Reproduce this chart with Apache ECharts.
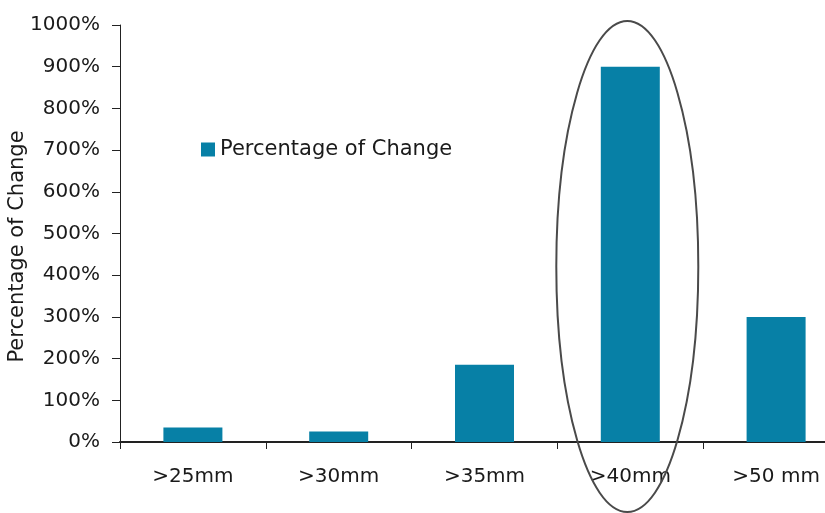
<!DOCTYPE html>
<html>
<head>
<meta charset="utf-8">
<script src="https://cdn.jsdelivr.net/npm/echarts@6/dist/echarts.min.js"></script>
<style>
  html, body { margin: 0; padding: 0; background: #fff; }
  #chart { width: 825px; height: 513px; }
</style>
</head>
<body>
<div id="chart"></div>
<script>
// Rainfall thresholds and the percentage change recorded for each
const categories = ['>25mm', '>30mm', '>35mm', '>40mm', '>50 mm'];
const changeValues = [35, 25, 185, 900, 300];
const seriesName = 'Percentage of Change';
const axisTitle = 'Percentage of Change';
const highlightCategory = '>40mm';

const FONT = 'DejaVu Sans';
const TEXT = '#1a1a1a';

const chart = echarts.init(document.getElementById('chart'));

// The plot area runs on past the right edge, so the last column sits near the border
chart.setOption({
  animation: false,
  backgroundColor: '#ffffff',
  grid: {
    left: 120, width: 729, top: 25, height: 417,
    containLabel: false,
    outerBoundsMode: 'none'
  },
  legend: {
    left: 196,
    top: 134,
    itemWidth: 14,
    itemHeight: 14,
    icon: 'rect',
    textStyle: { fontFamily: FONT, fontSize: 21, color: TEXT },
    data: [seriesName]
  },
  xAxis: {
    type: 'category',
    data: categories,
    axisLine: { lineStyle: { color: '#222', width: 2 } },
    axisTick: { show: true, alignWithLabel: false, length: 7, lineStyle: { color: '#222', width: 1 } },
    axisLabel: { fontFamily: FONT, fontSize: 20, color: TEXT, margin: 25 },
    splitLine: { show: false }
  },
  yAxis: {
    type: 'value',
    min: 0,
    max: 1000,
    interval: 100,
    axisLine: { show: true, lineStyle: { color: '#222', width: 1 } },
    axisTick: { show: true, length: 8, lineStyle: { color: '#222' } },
    axisLabel: {
      fontFamily: FONT, fontSize: 20, color: TEXT, margin: 20,
      formatter: function (v) { return v + '%'; }
    },
    splitLine: { show: false }
  },
  series: [{
    name: seriesName,
    type: 'bar',
    data: changeValues,
    barWidth: 59,
    itemStyle: { color: '#0780A6' }
  }]
});

// Rotated axis title and the ellipse drawn round the highlighted column
const cx = chart.convertToPixel({ xAxisIndex: 0 }, highlightCategory) - 3;
const yTop = chart.convertToPixel({ yAxisIndex: 0 }, 1000);
const yZero = chart.convertToPixel({ yAxisIndex: 0 }, 0);
const ellipseTop = yTop - 4;
const ellipseBottom = yZero + 70;

chart.setOption({
  graphic: [
    {
      type: 'text',
      x: 18,
      y: (yTop + yZero) / 2 + 13,
      rotation: Math.PI / 2,
      style: {
        text: axisTitle,
        fontFamily: FONT,
        fontSize: 21,
        fill: TEXT,
        align: 'center',
        verticalAlign: 'middle'
      }
    },
    {
      type: 'ellipse',
      shape: {
        cx: cx,
        cy: (ellipseTop + ellipseBottom) / 2,
        rx: 71,
        ry: (ellipseBottom - ellipseTop) / 2
      },
      style: { fill: 'none', stroke: '#4a4a4a', lineWidth: 2 },
      z: 100
    }
  ]
});
</script>
</body>
</html>
